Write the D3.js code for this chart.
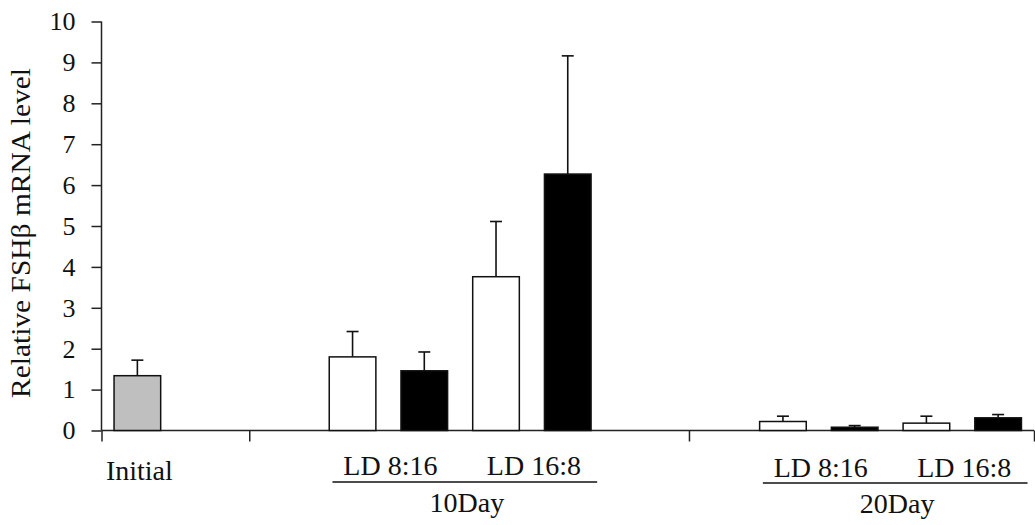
<!DOCTYPE html>
<html><head><meta charset="utf-8">
<script src="https://cdn.jsdelivr.net/npm/d3@7"></script>
<style>body{margin:0;background:#fff;} svg{display:block;}</style>
</head><body>
<svg id="chart" width="1035" height="525"></svg>
<script>
// ---- data ----
const barSlots   = [0, 3, 4, 5, 6, 9, 10, 11, 12];
const barLabels  = ["Initial","10Day LD 8:16 A","10Day LD 8:16 B","10Day LD 16:8 A","10Day LD 16:8 B","20Day LD 8:16 A","20Day LD 8:16 B","20Day LD 16:8 A","20Day LD 16:8 B"];
const barValues  = [1.34, 1.80, 1.46, 3.76, 6.27, 0.22, 0.08, 0.18, 0.31];
const barErrors  = [0.38, 0.62, 0.46, 1.35, 2.89, 0.13, 0.04, 0.17, 0.08];
const barKinds   = ["gray","white","black","white","black","white","black","white","black"];
const yTicks     = [0,1,2,3,4,5,6,7,8,9,10];
const xTickSlots = [-0.5, 1.56, 7.69, 12.5];
const subLabels  = [{text:"LD 8:16", slot:3.5}, {text:"LD 16:8", slot:5.5}, {text:"LD 8:16", slot:9.5}, {text:"LD 16:8", slot:11.5}];
const groupLabels = [{text:"10Day", from:3, to:6}, {text:"20Day", from:9, to:12}];
const yTitle = "Relative FSHβ mRNA level";

// ---- layout ----
const FONT = "'Liberation Serif', 'Times New Roman', serif";
const svg = d3.select("#chart");
const x = d3.scaleLinear().domain([-0.5, 12.5]).range([101.5, 1034]);
const y = d3.scaleLinear().domain([0, 10]).range([430.5, 21.5]);
const slotW = x(1) - x(0);
const barW = slotW * 0.65;
const fills = {gray:"#bfbfbf", white:"#ffffff", black:"#000000"};

function txt(sel, size){ return sel.style("font-family", FONT).style("font-size", size+"px").attr("fill","#111"); }

// y axis
const yAxis = svg.append("g").attr("transform", `translate(${x(-0.5)},0)`)
  .call(d3.axisLeft(y).tickValues(yTicks).tickSize(10).tickPadding(16).tickFormat(d3.format("d")));
yAxis.select(".domain").attr("stroke","#222").attr("stroke-width",1.5).attr("d", `M0,${y(10)}V${y(0)}`);
yAxis.selectAll(".tick line").attr("stroke","#222").attr("stroke-width",1.5);
txt(yAxis.selectAll(".tick text"), 26);

// x axis
const xAxis = svg.append("g").attr("transform", `translate(0,${y(0)})`)
  .call(d3.axisBottom(x).tickValues(xTickSlots).tickSize(11).tickFormat(""));
xAxis.select(".domain").attr("stroke","#222").attr("stroke-width",1.5).attr("d", `M${x(-0.5)},0H${x(12.5)}`);
xAxis.selectAll(".tick line").attr("stroke","#222").attr("stroke-width",1.5);

// bars
const data = barValues.map((v,i)=>({v, e:barErrors[i], slot:barSlots[i], kind:barKinds[i], label:barLabels[i]}));
const eg = svg.append("g").attr("stroke","#111").attr("stroke-width",1.6);
eg.selectAll("line.v").data(data).join("line").attr("class","v")
  .attr("x1", d=>x(d.slot)).attr("x2", d=>x(d.slot))
  .attr("y1", d=>y(d.v)).attr("y2", d=>y(d.v+d.e));
eg.selectAll("line.c").data(data).join("line").attr("class","c")
  .attr("x1", d=>x(d.slot)-6).attr("x2", d=>x(d.slot)+6)
  .attr("y1", d=>y(d.v+d.e)).attr("y2", d=>y(d.v+d.e));
svg.append("g").selectAll("rect").data(data).join("rect")
  .attr("x", d=>x(d.slot)-barW/2).attr("width", barW)
  .attr("y", d=>y(d.v)).attr("height", d=>y(0)-y(d.v))
  .attr("fill", d=>fills[d.kind]).attr("stroke","#111").attr("stroke-width",1.5);

// category labels
txt(svg.append("text").attr("x", x(0)+2).attr("y", 480).attr("text-anchor","middle").text("Initial"), 28);
txt(svg.append("g").selectAll("text").data(subLabels).join("text")
  .attr("x", d=>x(d.slot)+2).attr("y", (d,i)=> i<2 ? 475 : 477).attr("text-anchor","middle").text(d=>d.text), 28);
groupLabels.forEach((g,i)=>{
  const x0 = x(g.from) - slotW*0.28, x1 = x(g.to) + slotW*0.41;
  const ly = i===0 ? 482 : 483;
  svg.append("line").attr("x1",x0).attr("x2",x1).attr("y1",ly).attr("y2",ly).attr("stroke","#111").attr("stroke-width",1.5);
  txt(svg.append("text").attr("x",(x0+x1)/2+2).attr("y", ly+30).attr("text-anchor","middle").text(g.text), 28);
});

// y title
txt(svg.append("text").attr("transform","translate(30,233) rotate(-90)").attr("text-anchor","middle")
  .attr("textLength", 330).attr("lengthAdjust","spacingAndGlyphs").text(yTitle), 28);
</script>
</body></html>
